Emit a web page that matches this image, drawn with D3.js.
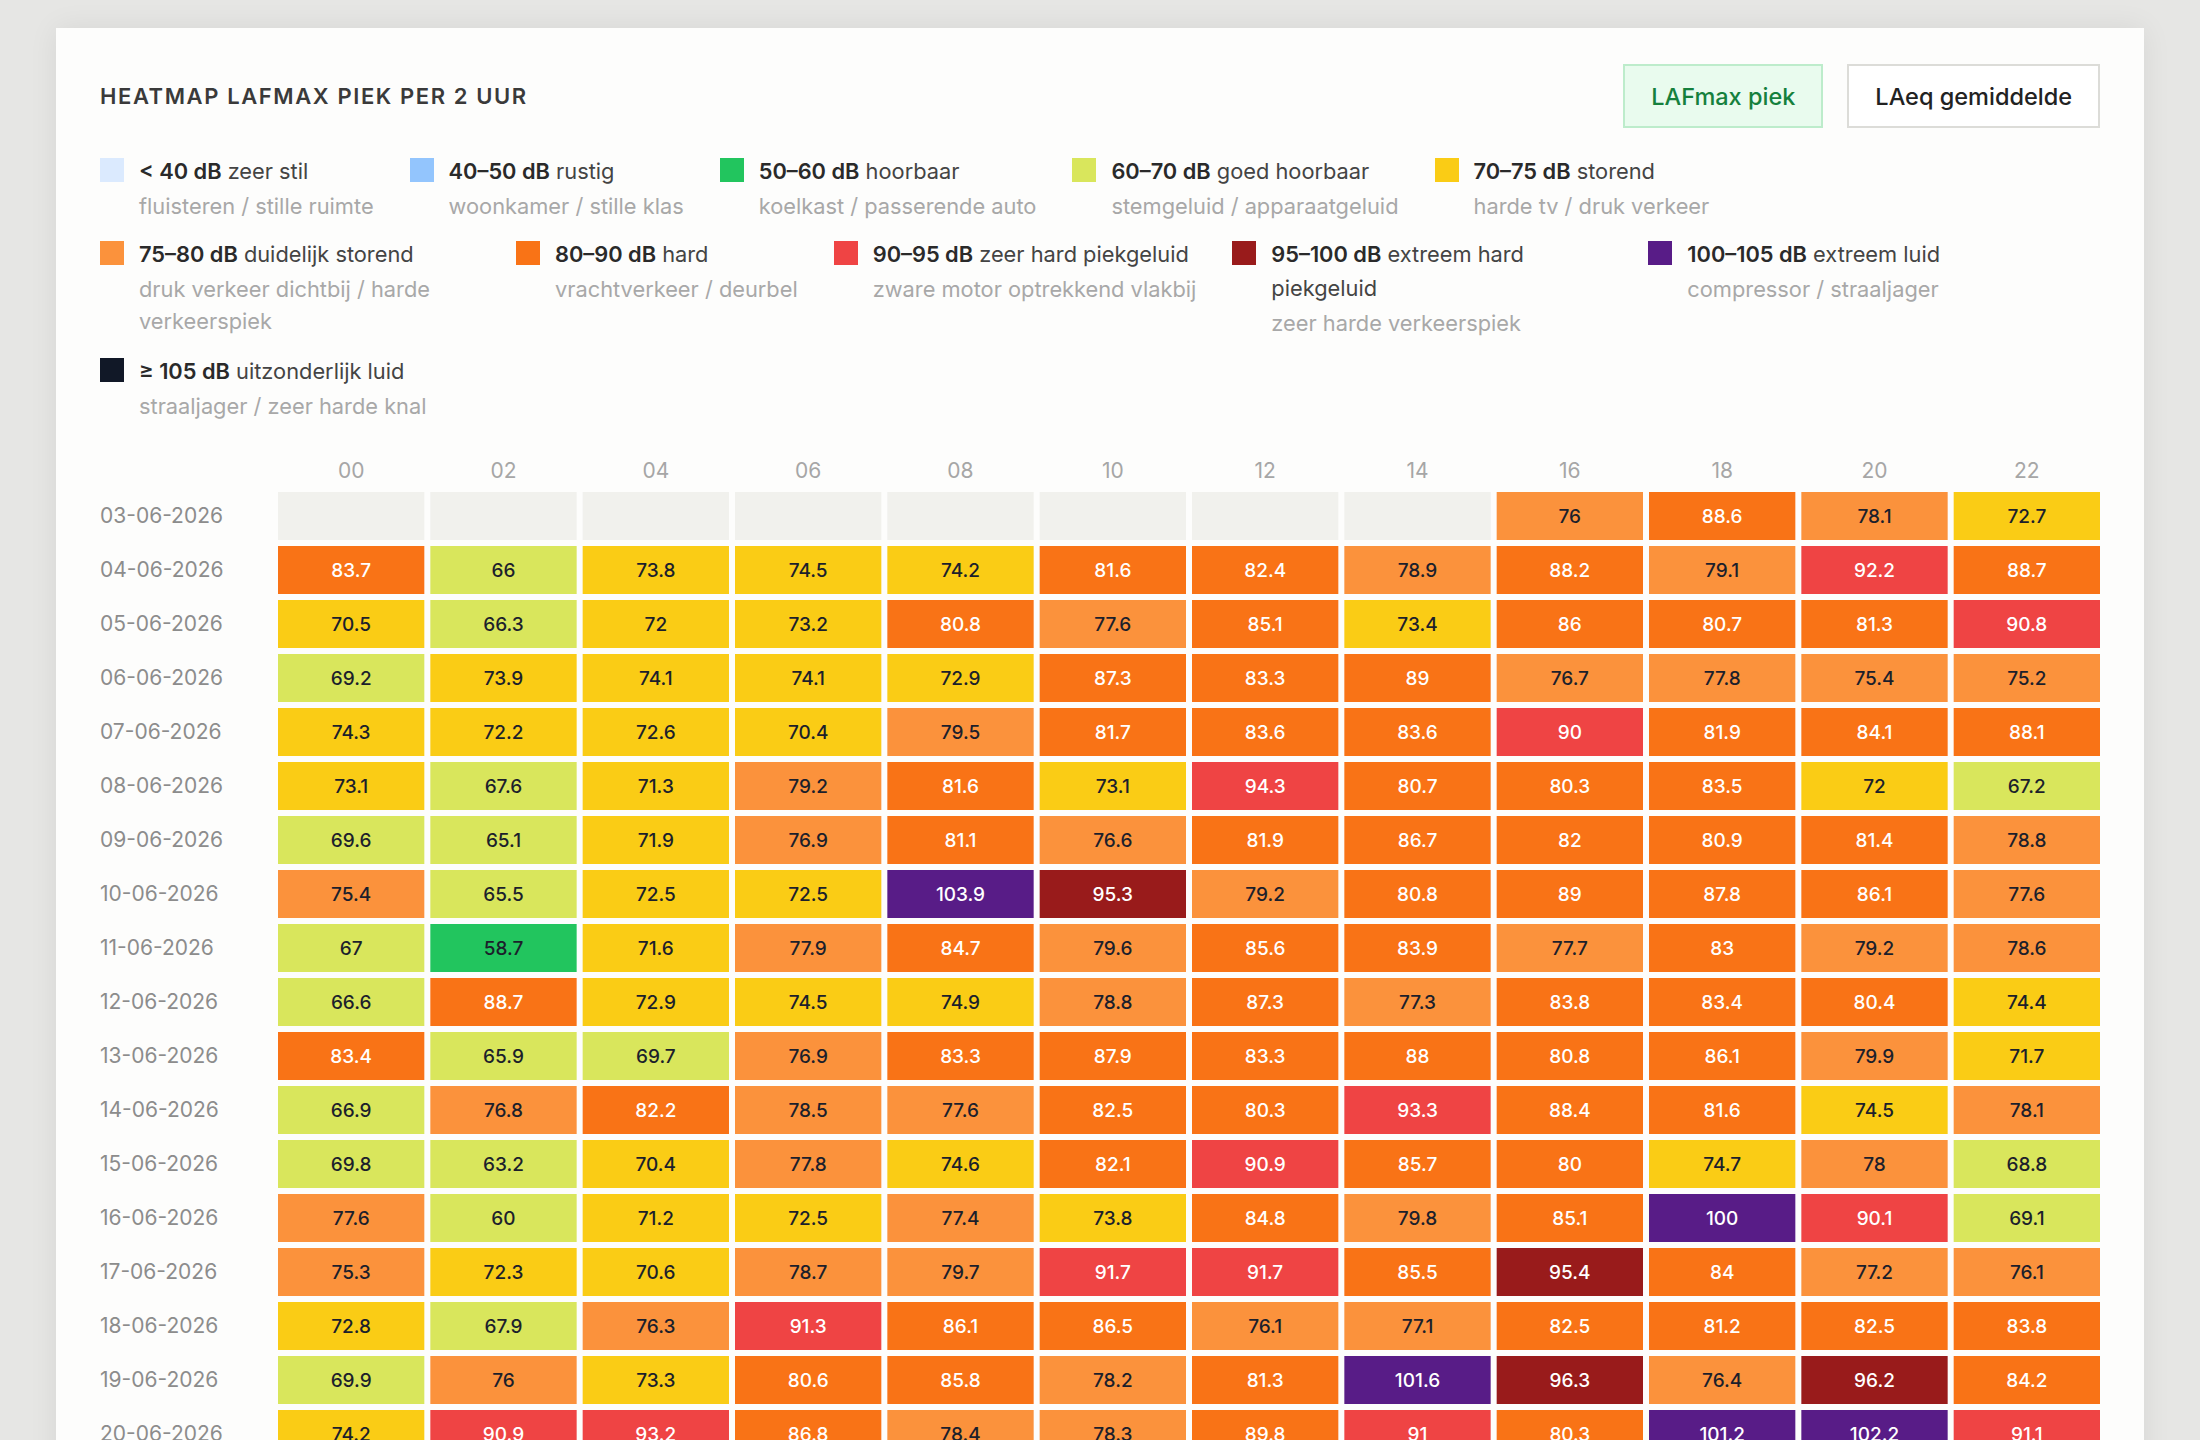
<!DOCTYPE html>
<html lang="nl">
<head>
<meta charset="utf-8">
<title>Heatmap LAFmax piek per 2 uur</title>
<script src="https://cdn.jsdelivr.net/npm/d3@7"></script>
<style>
  html, body {
    margin: 0;
    height: 1440px;
    overflow: hidden;
    background: #e6e6e4;
    font-family: Inter, "Noto Sans", sans-serif;
  }
  .card {
    position: absolute;
    left: 56px;
    top: 28px;
    width: 2088px;
    box-sizing: border-box;
    padding: 36px 44px 40px;
    background: #fdfdfc;
    box-shadow: 0 0 28px rgba(0, 0, 0, 0.07);
  }
  .head {
    display: flex;
    justify-content: space-between;
    align-items: center;
    height: 64px;
  }
  .title {
    font-size: 22px;
    font-weight: 600;
    letter-spacing: 1.6px;
    color: #3a3a3a;
  }
  .buttons { display: flex; gap: 24px; }
  .btn {
    height: 64px;
    box-sizing: border-box;
    padding: 0 26px;
    display: flex;
    align-items: center;
    font-size: 23.5px;
    font-weight: 500;
    border: 2px solid #dcdcd8;
    background: #fff;
    color: #222;
  }
  .btn.active {
    background: #e9fbee;
    border-color: #bdeccb;
    color: #15803d;
  }
  .legend {
    margin-top: 26px;
    display: flex;
    flex-wrap: wrap;
    column-gap: 36px;
    row-gap: 15px;
  }
  .item { display: flex; gap: 15px; max-width: 380px; }
  .swatch { flex: none; width: 24px; height: 24px; margin-top: 4px; }
  .label { font-size: 21.8px; line-height: 34px; color: #444; }
  .label b { font-weight: 600; color: #2a2a2a; }
  .sub { font-size: 21.8px; line-height: 32px; margin-top: 2px; color: #a8a8a8; }
  #heatmap { margin-top: 18px; display: block; }
</style>
</head>
<body>
<div class="card">
  <div class="head">
    <div class="title">HEATMAP LAFMAX PIEK PER 2 UUR</div>
    <div class="buttons">
      <div class="btn active">LAFmax piek</div>
      <div class="btn">LAeq gemiddelde</div>
    </div>
  </div>
  <div class="legend" id="legend"></div>
  <div id="chart"></div>
</div>
<script>
// Legend classes (dB bands)
const bandThresholds = [40, 50, 60, 70, 75, 80, 90, 95, 100, 105];
const bandColors = ["#dbeafe", "#93c5fd", "#22c55e", "#d9e65c", "#facc15", "#fb923c",
  "#f97316", "#ef4444", "#991b1b", "#581c87", "#111827"];
const bandRanges = ["< 40 dB", "40–50 dB", "50–60 dB", "60–70 dB", "70–75 dB", "75–80 dB",
  "80–90 dB", "90–95 dB", "95–100 dB", "100–105 dB", "≥ 105 dB"];
const bandNames = ["zeer stil", "rustig", "hoorbaar", "goed hoorbaar", "storend",
  "duidelijk storend", "hard", "zeer hard piekgeluid", "extreem hard piekgeluid",
  "extreem luid", "uitzonderlijk luid"];
const bandExamples = ["fluisteren / stille ruimte", "woonkamer / stille klas",
  "koelkast / passerende auto", "stemgeluid / apparaatgeluid", "harde tv / druk verkeer",
  "druk verkeer dichtbij / harde verkeerspiek", "vrachtverkeer / deurbel",
  "zware motor optrekkend vlakbij", "zeer harde verkeerspiek", "compressor / straaljager",
  "straaljager / zeer harde knal"];

// Two-hour slots and days
const hours = ["00", "02", "04", "06", "08", "10", "12", "14", "16", "18", "20", "22"];
const dates = ["03-06-2026", "04-06-2026", "05-06-2026", "06-06-2026", "07-06-2026",
  "08-06-2026", "09-06-2026", "10-06-2026", "11-06-2026", "12-06-2026", "13-06-2026",
  "14-06-2026", "15-06-2026", "16-06-2026", "17-06-2026", "18-06-2026", "19-06-2026",
  "20-06-2026"];

// LAFmax peak per day (rows) and slot (columns); null = no measurement
const lafmax = [
  [null, null, null, null, null, null, null, null, 76, 88.6, 78.1, 72.7],
  [83.7, 66, 73.8, 74.5, 74.2, 81.6, 82.4, 78.9, 88.2, 79.1, 92.2, 88.7],
  [70.5, 66.3, 72, 73.2, 80.8, 77.6, 85.1, 73.4, 86, 80.7, 81.3, 90.8],
  [69.2, 73.9, 74.1, 74.1, 72.9, 87.3, 83.3, 89, 76.7, 77.8, 75.4, 75.2],
  [74.3, 72.2, 72.6, 70.4, 79.5, 81.7, 83.6, 83.6, 90, 81.9, 84.1, 88.1],
  [73.1, 67.6, 71.3, 79.2, 81.6, 73.1, 94.3, 80.7, 80.3, 83.5, 72, 67.2],
  [69.6, 65.1, 71.9, 76.9, 81.1, 76.6, 81.9, 86.7, 82, 80.9, 81.4, 78.8],
  [75.4, 65.5, 72.5, 72.5, 103.9, 95.3, 79.2, 80.8, 89, 87.8, 86.1, 77.6],
  [67, 58.7, 71.6, 77.9, 84.7, 79.6, 85.6, 83.9, 77.7, 83, 79.2, 78.6],
  [66.6, 88.7, 72.9, 74.5, 74.9, 78.8, 87.3, 77.3, 83.8, 83.4, 80.4, 74.4],
  [83.4, 65.9, 69.7, 76.9, 83.3, 87.9, 83.3, 88, 80.8, 86.1, 79.9, 71.7],
  [66.9, 76.8, 82.2, 78.5, 77.6, 82.5, 80.3, 93.3, 88.4, 81.6, 74.5, 78.1],
  [69.8, 63.2, 70.4, 77.8, 74.6, 82.1, 90.9, 85.7, 80, 74.7, 78, 68.8],
  [77.6, 60, 71.2, 72.5, 77.4, 73.8, 84.8, 79.8, 85.1, 100, 90.1, 69.1],
  [75.3, 72.3, 70.6, 78.7, 79.7, 91.7, 91.7, 85.5, 95.4, 84, 77.2, 76.1],
  [72.8, 67.9, 76.3, 91.3, 86.1, 86.5, 76.1, 77.1, 82.5, 81.2, 82.5, 83.8],
  [69.9, 76, 73.3, 80.6, 85.8, 78.2, 81.3, 101.6, 96.3, 76.4, 96.2, 84.2],
  [74.2, 90.9, 93.2, 86.8, 78.4, 78.3, 89.8, 91, 80.3, 101.2, 102.2, 91.1]
];

// Color scale following the legend bands
const color = d3.scaleThreshold().domain(bandThresholds).range(bandColors);

// Legend
const items = d3.select("#legend")
  .selectAll(".item")
  .data(bandRanges)
  .enter()
  .append("div")
  .attr("class", "item");
items.append("div")
  .attr("class", "swatch")
  .style("background", (d, i) => bandColors[i]);
const texts = items.append("div");
const label = texts.append("div").attr("class", "label");
label.append("b").text((d) => d);
label.append("span").text((d, i) => " " + bandNames[i]);
texts.append("div").attr("class", "sub").text((d, i) => bandExamples[i]);

// Heatmap dimensions
const margin = { top: 52, right: 0, bottom: 20, left: 178 };
const width = 2000 - margin.left - margin.right;
const step = 54;
const height = dates.length * step - 6;

const svg = d3.select("#chart")
  .append("svg")
  .attr("id", "heatmap")
  .attr("width", width + margin.left + margin.right)
  .attr("height", height + margin.top + margin.bottom)
  .append("g")
  .attr("transform", `translate(${margin.left},${margin.top})`);

const x = d3.scaleBand().domain(hours).range([0, width]).paddingInner(6 / 152);
const y = d3.scaleBand().domain(dates).range([0, height]).paddingInner(6 / 54);

// Column headers
const xAxis = svg.append("g")
  .call(d3.axisTop(x).tickSize(0).tickPadding(14));
xAxis.select(".domain").remove();
xAxis.selectAll("text")
  .attr("fill", "#a6a6a6")
  .style("font-size", "21px")
  .style("font-family", "Inter, sans-serif");

// Row labels
const yAxis = svg.append("g")
  .call(d3.axisLeft(y).tickSize(0));
yAxis.select(".domain").remove();
yAxis.selectAll("text")
  .attr("x", -margin.left)
  .attr("text-anchor", "start")
  .attr("fill", "#8c8c8c")
  .style("font-size", "21px")
  .style("font-family", "Inter, sans-serif");

// Flatten into cells
const cells = [];
dates.forEach((date, r) => {
  hours.forEach((hour, c) => {
    cells.push({ date, hour, value: lafmax[r][c] });
  });
});

const cell = svg.append("g")
  .selectAll("g")
  .data(cells)
  .enter()
  .append("g")
  .attr("transform", (d) => `translate(${x(d.hour)},${y(d.date)})`);

cell.append("rect")
  .attr("width", x.bandwidth())
  .attr("height", y.bandwidth())
  .attr("fill", (d) => (d.value == null ? "#f1f1ed" : color(d.value)));

cell.filter((d) => d.value != null)
  .append("text")
  .attr("x", x.bandwidth() / 2)
  .attr("y", y.bandwidth() / 2)
  .attr("dy", "0.35em")
  .attr("text-anchor", "middle")
  .attr("fill", (d) => (d.value >= 80 ? "#ffffff" : "#1c1f2b"))
  .style("font-size", "19px")
  .style("font-weight", 500)
  .style("font-family", "Inter, sans-serif")
  .text((d) => d.value);
</script>
</body>
</html>
